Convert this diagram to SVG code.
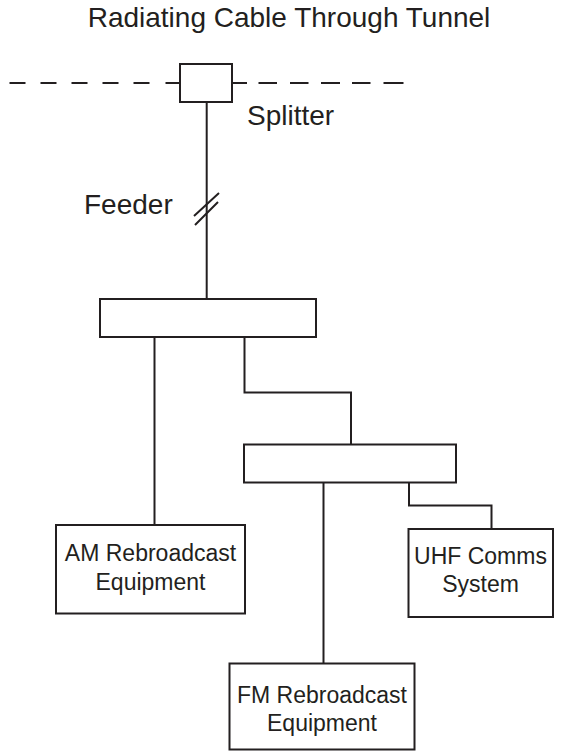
<svg xmlns="http://www.w3.org/2000/svg" width="568" height="753" viewBox="0 0 568 753">
<style>
.ln{fill:none;stroke:#231f20;stroke-width:2}
.bx{fill:#fff;stroke:#231f20;stroke-width:2}
.lb{font-family:"Liberation Sans",Arial,sans-serif;font-size:28px;fill:#231f20}
.bt{font-family:"Liberation Sans",Arial,sans-serif;font-size:23px;fill:#231f20;text-anchor:middle}
</style>
<rect width="568" height="753" fill="#fff"/>
<g id="title"><text class="lb" x="289" y="27" text-anchor="middle">Radiating Cable Through Tunnel</text></g>
<g id="connectors">
<path class="ln" d="M9.5 83H25.5M40.5 83H56.5M71.5 83H87.5M102.5 83H118.5M133.5 83H149.5M165.5 83H180"/>
<path class="ln" d="M232 83H247M258.5 83H277M290 83H308.5M321 83H340M352 83H370.5M383.5 83H403.5"/>
<path class="ln" d="M206.7 102V299"/>
<path class="ln" d="M194 216L219 193M195 225L218 202"/>
<path class="ln" d="M154.5 337V525"/>
<path class="ln" d="M244.5 337V392.5H351V444.5"/>
<path class="ln" d="M323.5 482.5V663.5"/>
<path class="ln" d="M409 482.5V505.5H491.5V529"/>
</g>
<g id="splitter"><rect class="bx" x="180" y="64" width="52" height="38"/><text class="lb" x="247" y="125">Splitter</text></g>
<g id="feeder"><text class="lb" x="84" y="214">Feeder</text></g>
<g id="combiner1"><rect class="bx" x="100" y="299" width="216" height="38"/></g>
<g id="combiner2"><rect class="bx" x="244" y="444.5" width="212" height="38"/></g>
<g id="am"><rect class="bx" x="56" y="525" width="189" height="88.5"/><text class="bt" x="150.5" y="561">AM Rebroadcast</text><text class="bt" x="150.5" y="590">Equipment</text></g>
<g id="uhf"><rect class="bx" x="408.5" y="529" width="144.5" height="88"/><text class="bt" x="480.5" y="564">UHF Comms</text><text class="bt" x="480.5" y="592">System</text></g>
<g id="fm"><rect class="bx" x="229.5" y="663.5" width="185" height="86"/><text class="bt" x="322" y="703">FM Rebroadcast</text><text class="bt" x="322" y="731">Equipment</text></g>
</svg>
